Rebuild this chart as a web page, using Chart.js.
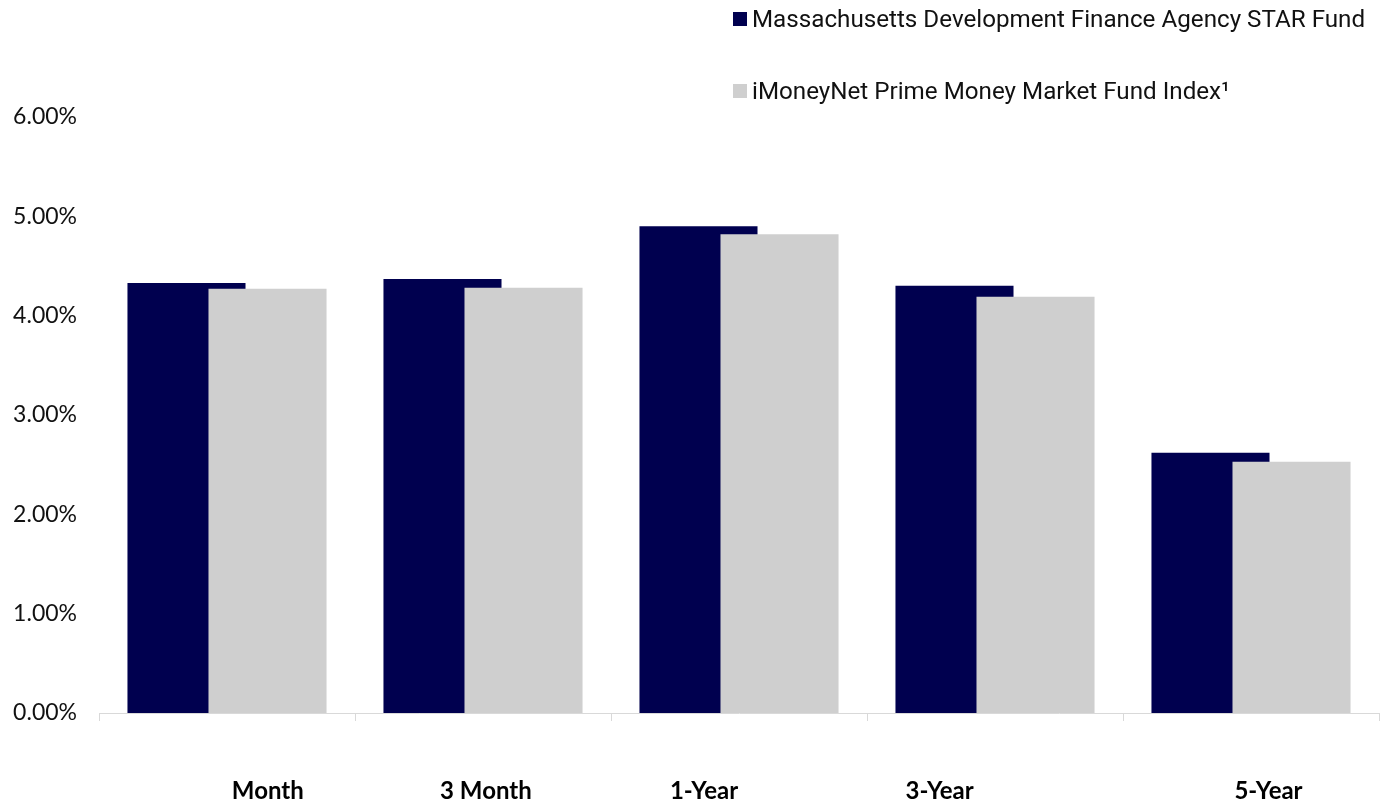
<!DOCTYPE html>
<html>
<head>
<meta charset="utf-8">
<script src="https://cdn.jsdelivr.net/npm/chart.js@4.4.1/dist/chart.umd.min.js"></script>
<style>
  body { margin: 0; background: #fff; }
  #wrap { position: relative; width: 1388px; height: 802px; }
  #legend { position: absolute; left: 733px; top: 0; font-family: Roboto, sans-serif; font-size: 24.2px; color: #111; }
  .item { position: absolute; left: 0; white-space: nowrap; display: flex; align-items: center; }
  .sw { width: 14px; height: 14px; margin-right: 5px; }
</style>
</head>
<body>
<div id="wrap">
  <canvas id="returnsChart" width="1388" height="802"></canvas>
  <div id="legend"></div>
</div>
<script>
const periods = ['Month', '3 Month', '1-Year', '3-Year', '5-Year'];
const starFund = [4.33, 4.37, 4.90, 4.30, 2.62];
const primeIndex = [4.27, 4.28, 4.82, 4.19, 2.53];
const seriesNames = ['Massachusetts Development Finance Agency STAR Fund', 'iMoneyNet Prime Money Market Fund Index\u00B9'];
const seriesColors = ['#00004f', '#cfcfcf'];
const yTicks = [0, 1, 2, 3, 4, 5, 6];

// the source labels sit off-centre; nudge them (px) with padding spaces
const labelShift = [41, 2, -36, -55, 17];
const xFont = { family: 'Lato', size: 24, weight: 'bold' };

const measure = document.createElement('canvas').getContext('2d');
measure.font = `bold ${xFont.size}px ${xFont.family}`;
const spaceW = measure.measureText(' ').width;

function padLabel(text, shift) {
  const n = Math.round(Math.abs(shift) * 2 / spaceW);
  const pad = ' '.repeat(n);
  return shift > 0 ? pad + text : text + pad;
}

// grey bar overlaps the navy one, so draw datasets first-to-last
const overlapOrder = {
  id: 'overlapOrder',
  beforeDatasetDraw: () => false,
  afterDatasetsDraw(chart) {
    chart.data.datasets.forEach((d, i) => {
      const meta = chart.getDatasetMeta(i);
      if (!meta.hidden) meta.controller.draw();
    });
  }
};

const ctx = document.getElementById('returnsChart').getContext('2d');
const chart = new Chart(ctx, {
  type: 'bar',
  data: {
    labels: periods,
    datasets: [
      { label: seriesNames[0], data: starFund, backgroundColor: seriesColors[0] },
      { label: seriesNames[1], data: primeIndex, backgroundColor: seriesColors[1] }
    ]
  },
  options: {
    responsive: false,
    animation: false,
    layout: { padding: { top: 117, right: 9, bottom: 0, left: 0 } },
    datasets: { bar: { categoryPercentage: 0.633, barPercentage: 1.457 } },
    plugins: { legend: { display: false }, tooltip: { enabled: false } },
    scales: {
      x: {
        grid: { drawOnChartArea: false, drawTicks: true, tickLength: 8, color: '#d9d9d9', offset: true },
        border: { display: true, color: '#d9d9d9' },
        ticks: {
          color: '#000', font: xFont, padding: 56, maxRotation: 0, autoSkip: false,
          callback: (v, i) => padLabel(periods[i], labelShift[i])
        },
        afterFit: s => { s.height = 89; }
      },
      y: {
        min: 0, max: 6,
        grid: { display: false },
        border: { display: false },
        afterBuildTicks: s => { s.ticks = yTicks.map(v => ({ value: v })); },
        ticks: { color: '#111', font: { family: 'Lato', size: 23 }, padding: 14, callback: v => v.toFixed(2) + '%' },
        afterFit: s => { s.width = 99; }
      }
    }
  },
  plugins: [overlapOrder]
});

const legendEl = document.getElementById('legend');
seriesNames.forEach((name, i) => {
  const div = document.createElement('div');
  div.className = 'item';
  div.style.top = (i === 0 ? 5 : 77) + 'px';
  div.innerHTML = `<span class="sw" style="background:${seriesColors[i]}"></span><span></span>`;
  div.lastChild.textContent = name;
  legendEl.appendChild(div);
});
</script>
</body>
</html>
